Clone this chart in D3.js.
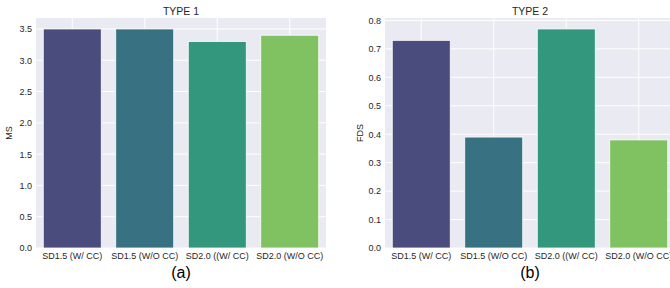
<!DOCTYPE html>
<html>
<head>
<meta charset="utf-8">
<script src="https://cdn.jsdelivr.net/npm/d3@7"></script>
<style>
  body { margin: 0; background: #fff; }
  svg { display: block; font-family: "Liberation Sans", Arial, sans-serif; }
</style>
</head>
<body>
<div id="main"></div>
<script>
// chart data
const categories = ["SD1.5 (W/ CC)", "SD1.5 (W/O CC)", "SD2.0 ((W/ CC)", "SD2.0 (W/O CC)"];
const type1Values = [3.5, 3.5, 3.3, 3.4];
const type2Values = [0.73, 0.39, 0.77, 0.38];
const type1Ticks = [0, 0.5, 1, 1.5, 2, 2.5, 3, 3.5];
const type2Ticks = [0, 0.1, 0.2, 0.3, 0.4, 0.5, 0.6, 0.7, 0.8];
const barColors = ["#4a4c7e", "#377182", "#32977c", "#80c161"];

const width = 670, height = 288;
const svg = d3.select("#main").append("svg")
    .attr("width", width)
    .attr("height", height);

function drawPanel(opts) {
    const g = svg.append("g");
    const x = d3.scaleBand()
        .domain(categories)
        .range([opts.left, opts.left + 290])
        .padding(0.2)
        .paddingOuter(0.1);
    const y = d3.scaleLinear()
        .domain([0, d3.max(opts.values) * 1.05])
        .range([248, 18]);

    // background
    g.append("rect")
        .attr("x", opts.left).attr("y", 18)
        .attr("width", 290).attr("height", 230)
        .attr("fill", "#eaeaf2");

    // gridlines
    g.selectAll(".hgrid").data(opts.ticks).enter().append("line")
        .attr("x1", opts.left).attr("x2", opts.left + 290)
        .attr("y1", d => y(d)).attr("y2", d => y(d))
        .attr("stroke", "#fff").attr("stroke-width", 1);
    g.selectAll(".vgrid").data(categories).enter().append("line")
        .attr("x1", d => x(d) + x.bandwidth() / 2).attr("x2", d => x(d) + x.bandwidth() / 2)
        .attr("y1", 18).attr("y2", 248)
        .attr("stroke", "#fff").attr("stroke-width", 1);

    // bars
    g.selectAll(".bar").data(opts.values).enter().append("rect")
        .attr("x", (d, i) => x(categories[i]))
        .attr("y", d => y(d))
        .attr("width", x.bandwidth())
        .attr("height", d => y(0) - y(d))
        .attr("fill", (d, i) => barColors[i])
        .attr("stroke", "#fff")
        .attr("stroke-width", 0.8);

    // y axis
    const yAxis = d3.axisLeft(y)
        .tickValues(opts.ticks)
        .tickFormat(d3.format(opts.fmt))
        .tickSize(0)
        .tickPadding(4);
    const ya = g.append("g")
        .attr("transform", `translate(${opts.left},0)`)
        .call(yAxis);
    ya.select(".domain").remove();
    ya.selectAll("text").attr("font-size", 9).attr("fill", "#262626")
        .attr("font-family", "Liberation Sans, Arial, sans-serif");

    // x axis
    const xAxis = d3.axisBottom(x).tickSize(0).tickPadding(5);
    const xa = g.append("g")
        .attr("transform", "translate(0,248)")
        .call(xAxis);
    xa.select(".domain").remove();
    xa.selectAll("text").attr("font-size", 9).attr("fill", "#262626")
        .attr("font-family", "Liberation Sans, Arial, sans-serif");

    // title
    g.append("text")
        .attr("x", opts.left + 145).attr("y", 15)
        .attr("text-anchor", "middle")
        .attr("font-size", 10.5).attr("fill", "#262626")
        .text(opts.title);

    // y label
    g.append("text")
        .attr("transform", `translate(${opts.labelX},133) rotate(-90)`)
        .attr("text-anchor", "middle")
        .attr("dy", "0.35em")
        .attr("font-size", 9).attr("fill", "#262626")
        .text(opts.ylabel);

    // caption
    g.append("text")
        .attr("x", opts.left + 145).attr("y", 278)
        .attr("text-anchor", "middle")
        .attr("font-size", 16).attr("fill", "#000")
        .text(opts.caption);
}

drawPanel({left: 36, values: type1Values, ticks: type1Ticks, fmt: ".1f",
    title: "TYPE 1", ylabel: "MS", labelX: 9, caption: "(a)"});
drawPanel({left: 385, values: type2Values, ticks: type2Ticks, fmt: ".1f",
    title: "TYPE 2", ylabel: "FDS", labelX: 360, caption: "(b)"});
</script>
</body>
</html>
